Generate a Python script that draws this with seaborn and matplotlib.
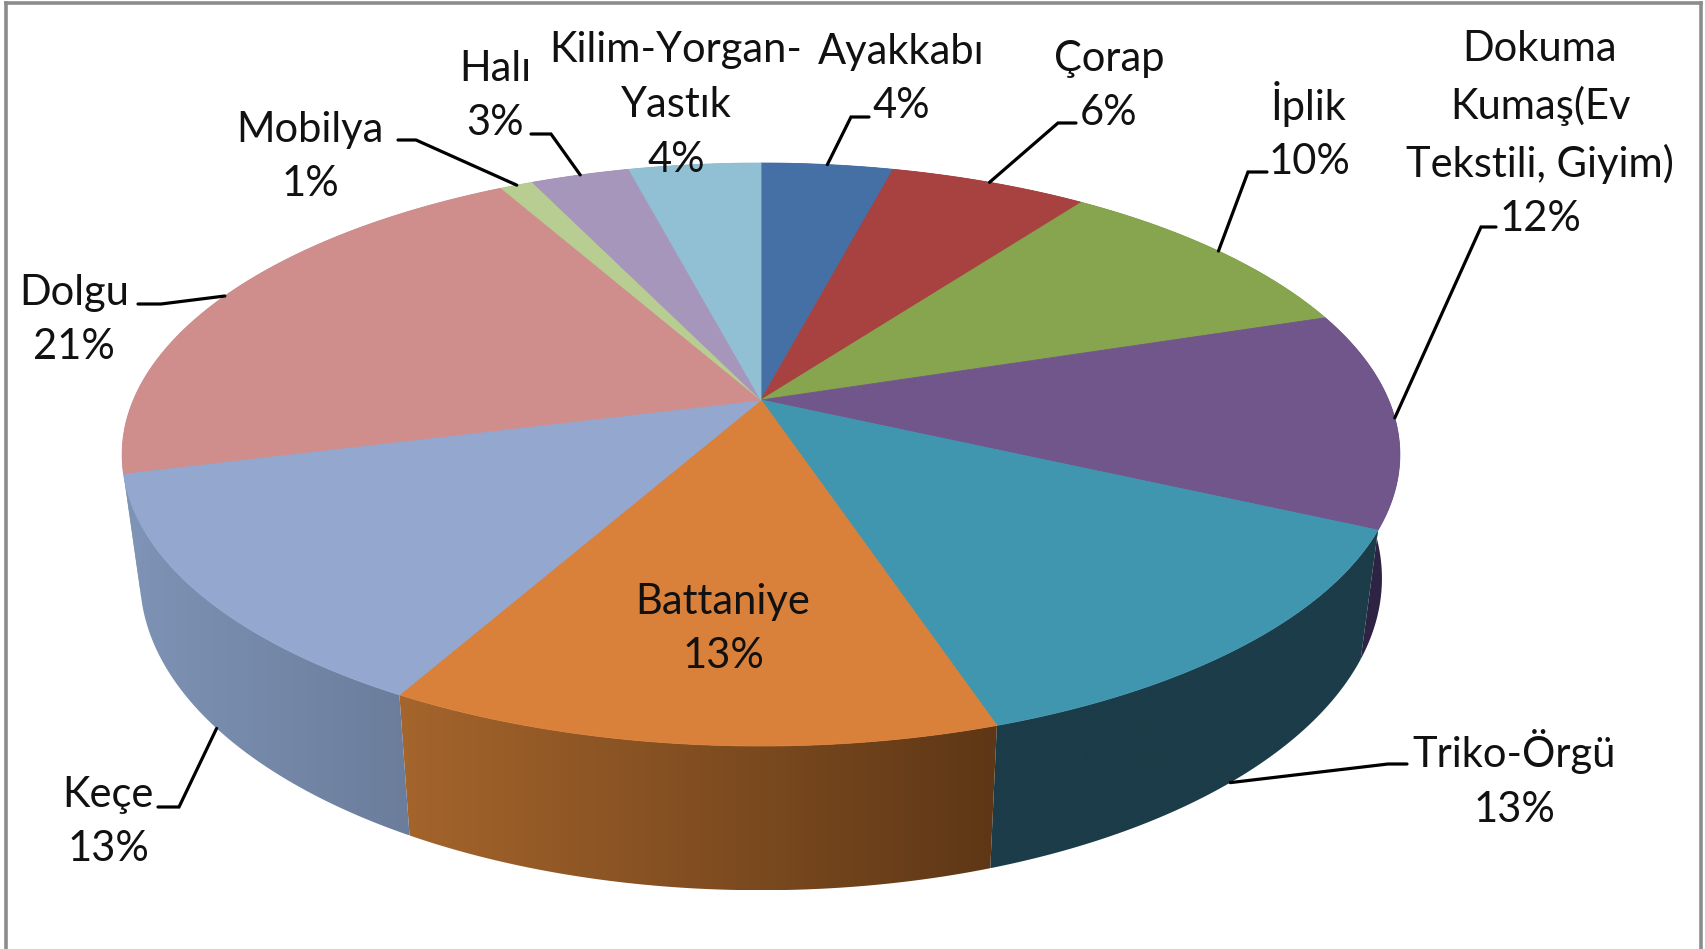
import numpy as np
import matplotlib
matplotlib.use("Agg")
import matplotlib.pyplot as plt
import seaborn as sns
from matplotlib.patches import Polygon

# data
categories = ["Ayakkabı", "Çorap", "İplik", "Dokuma\nKumaş(Ev\nTekstili, Giyim)", "Triko-Örgü",
              "Battaniye", "Keçe", "Dolgu", "Mobilya", "Halı", "Kilim-Yorgan-\nYastık"]
values = [4, 6, 10, 12, 13, 13, 13, 21, 1, 3, 4]
top_colors = ["#4470A5", "#A74240", "#87A44E", "#71568B", "#4096AF", "#D9803A",
              "#93A7CF", "#CF8D8C", "#B7CD91", "#A796BB", "#91C0D4"]
# side wall shading, left to right
wall_left = ["#2E496C", "#6E2C2A", "#586B33", "#2E2344", "#1B3C48", "#A5652C",
             "#7E93B6", "#7E93B6", "#77865F", "#6D627A", "#5F7D8A"]
wall_right = ["#2E496C", "#6E2C2A", "#586B33", "#2E2344", "#1B3C48", "#5E3716",
              "#6B7D9B", "#7E93B6", "#77865F", "#6D627A", "#5F7D8A"]

# label layout, in picture pixels
label_xy = [(901, 79), (1109, 86), (1309, 131), (1540, 134), (1514, 779), (723, 629),
            (108, 822), (74, 320), (310, 157), (495, 96), (676, 105)]
elbow_xy = [[(869, 117), (851, 117)], [(1076, 123), (1058, 123)], [(1267, 172), (1248, 172)],
            [(1496, 227), (1481, 227)], [(1407, 764), (1388, 764)], None,
            [(158, 807), (179, 807)], [(138, 304), (161, 304)], [(398, 140), (416, 140)],
            [(531, 134), (551, 134)], None]
lower_rim = [False, False, False, False, True, False, True, False, False, False, False]

# perspective of the disc
CX = 761
TILT = 0.187
TOP = dict(a=627.6, b=281.3, cy=400)
BOTTOM = dict(a=610, b=301, cy=520)


def project(angle, disc):
    u = np.sin(angle)
    v = -np.cos(angle)
    d = 1 - TILT * v
    return CX + disc["a"] * u / d, disc["cy"] + disc["b"] * v / d


sns.set_theme(style="white")
plt.rcParams["font.family"] = ["Lato", "DejaVu Sans"]

fig = plt.figure(figsize=(17.05, 9.49), dpi=100)
ax = fig.add_axes([6 / 1705, 0, 1695 / 1705, 946 / 949])
ax.set_xlim(6, 1701)
ax.set_ylim(949, 3)
ax.set_xticks([])
ax.set_yticks([])
for side in ["left", "right", "top"]:
    ax.spines[side].set_color("#8C8C8C")
    ax.spines[side].set_linewidth(2.6)
ax.spines["bottom"].set_visible(False)

edges = np.cumsum([0] + values) / sum(values) * 2 * np.pi

# side walls first, the top faces cover the back part
for i in range(len(values)):
    t = np.linspace(edges[i], edges[i + 1], 80)
    x1, y1 = project(t, TOP)
    x2, y2 = project(t, BOTTOM)
    xs = np.r_[x1, x2[::-1]]
    ys = np.r_[y1, y2[::-1]]
    cmap = sns.blend_palette([wall_left[i], wall_right[i]], as_cmap=True)
    img = ax.imshow(np.linspace(0, 1, 256)[None, :], cmap=cmap, aspect="auto", zorder=1,
                    extent=(xs.min(), xs.max(), ys.max(), ys.min()))
    img.set_clip_path(Polygon(np.c_[xs, ys], transform=ax.transData))

for i in range(len(values)):
    t = np.linspace(edges[i], edges[i + 1], 80)
    x1, y1 = project(t, TOP)
    ax.fill(np.r_[CX, x1], np.r_[TOP["cy"], y1], facecolor=top_colors[i],
            edgecolor=top_colors[i], linewidth=0.6, zorder=2)

ax.set_xlim(6, 1701)
ax.set_ylim(949, 3)

# labels and leader lines
for i, name in enumerate(categories):
    ax.text(label_xy[i][0], label_xy[i][1], f"{name}\n{values[i]}%", ha="center", va="center",
            fontsize=30, linespacing=1.54, color="#111111", zorder=4)
    if elbow_xy[i] is None:
        continue
    mid = (edges[i] + edges[i + 1]) / 2
    end = project(mid, BOTTOM if lower_rim[i] else TOP)
    px = [elbow_xy[i][0][0], elbow_xy[i][1][0], end[0]]
    py = [elbow_xy[i][0][1], elbow_xy[i][1][1], end[1]]
    ax.plot(px, py, color="black", lw=2.3, zorder=3, solid_joinstyle="miter")

fig.savefig("out.png", dpi=100, facecolor="white")
